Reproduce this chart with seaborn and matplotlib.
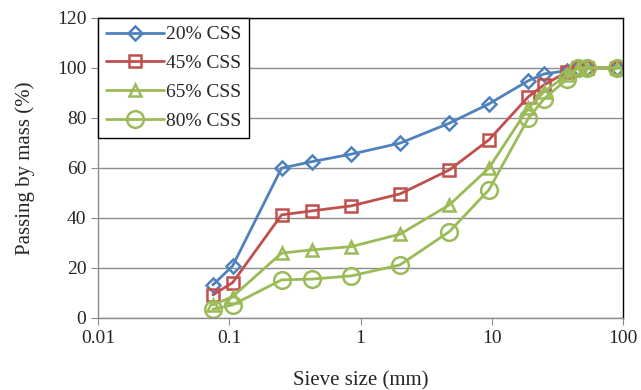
import matplotlib
matplotlib.use("Agg")
import matplotlib.pyplot as plt
import seaborn as sns

# sieve sizes (mm) and percent passing for each mix
sieve = [0.075, 0.106, 0.25, 0.425, 0.85, 2, 4.75, 9.5, 19, 25, 37.5, 45, 53, 90]
css20 = [13.2, 20.8, 59.9, 62.5, 65.5, 69.9, 77.9, 85.6, 94.9, 97.6, 98.9, 100, 100, 100]
css45 = [9.2, 14.1, 41.2, 42.8, 44.8, 49.6, 59.2, 71.2, 88.5, 93.2, 98.5, 100, 100, 100]
css65 = [5.2, 8.5, 25.9, 27.2, 28.5, 33.5, 45.2, 59.9, 84.0, 90.5, 97.2, 100, 100, 100]
css80 = [3.5, 5.2, 15.2, 15.5, 16.8, 21.2, 34.5, 51.2, 79.9, 87.6, 95.6, 100, 100, 100]
labels = ["20% CSS", "45% CSS", "65% CSS", "80% CSS"]
xtick_vals = [0.01, 0.1, 1, 10, 100]
xtick_labels = ["0.01", "0.1", "1", "10", "100"]

sns.set_style("white")
plt.rcParams["font.family"] = ["Liberation Serif", "DejaVu Serif"]

fig = plt.figure(figsize=(6.41, 3.9), dpi=100)
ax = fig.add_axes([0.153, 0.185, 0.819, 0.769])

styles = [
    ("#4F81BD", "D", 7),
    ("#C0504D", "s", 9),
    ("#9BBB59", "^", 9),
    ("#9BBB59", "o", 12),
]
for vals, lab, (col, mk, ms) in zip([css20, css45, css65, css80], labels, styles):
    sns.lineplot(x=sieve, y=vals, ax=ax, color=col, marker=mk, ms=ms,
                 mfc="none", mec=col, mew=1.8, lw=2, label=lab)

ax.set_xscale("log")
ax.set_xlim(0.01, 100)
ax.set_ylim(0, 120)
ax.set_xticks(xtick_vals)
ax.set_xticklabels(xtick_labels)
ax.xaxis.set_minor_locator(matplotlib.ticker.NullLocator())
ax.set_yticks(range(0, 121, 20))

ax.grid(axis="y", color="#8C8C8C", lw=1)
ax.grid(axis="x", visible=False)
ax.set_axisbelow(True)
for side in ["top", "right"]:
    ax.spines[side].set_color("black")
for side in ["left", "bottom"]:
    ax.spines[side].set_color("#8C8C8C")
for s in ax.spines.values():
    s.set_linewidth(1)
ax.tick_params(axis="both", which="major", labelsize=14, length=5,
               direction="out", color="#8C8C8C", left=True, bottom=True)

ax.set_xlabel("Sieve size (mm)", fontsize=15, labelpad=18)
ax.set_ylabel("Passing by mass (%)", fontsize=15, labelpad=16)

leg = ax.legend(loc="upper left", bbox_to_anchor=(0, 1), borderaxespad=0,
                fontsize=14, handlelength=3.0, labelspacing=0.58,
                fancybox=False, framealpha=1, edgecolor="black",
                handletextpad=0.1, borderpad=0.4)
leg.get_frame().set_linewidth(1)

fig.savefig("out.png", dpi=100)
